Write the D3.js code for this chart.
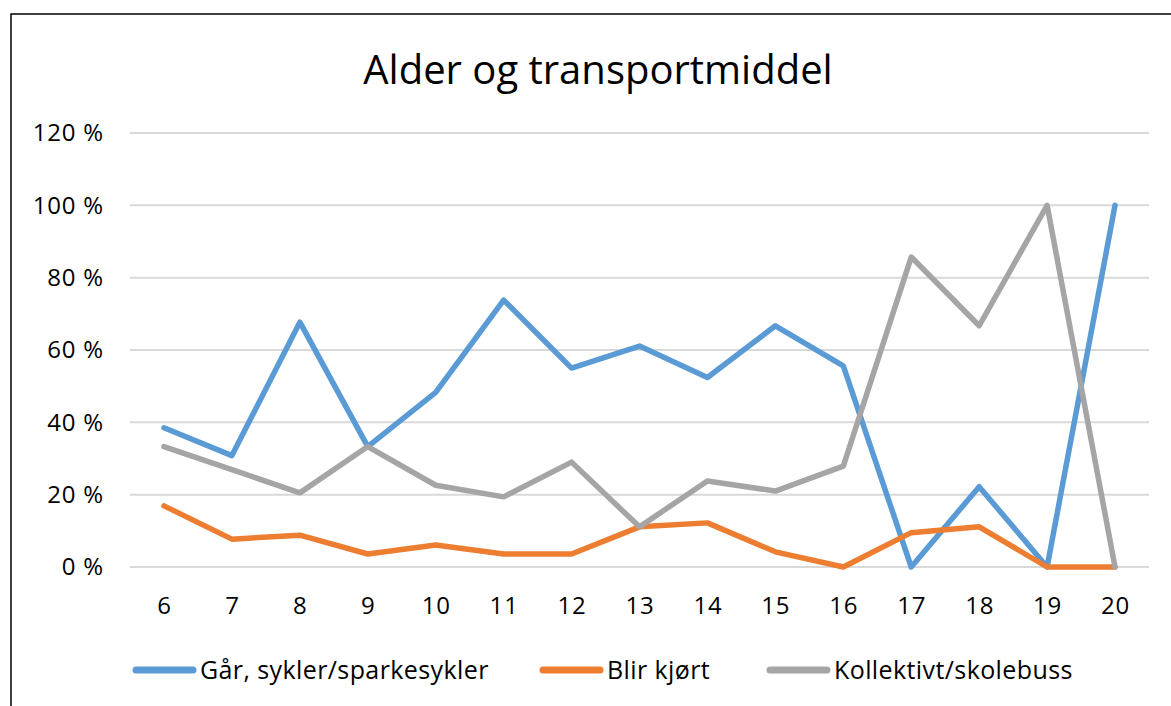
<!DOCTYPE html>
<html>
<head>
<meta charset="utf-8">
<script src="https://cdn.jsdelivr.net/npm/d3@7"></script>
<style>
  body { margin: 0; background: #fff; }
  svg { display: block; font-family: "Open Sans", sans-serif; }
</style>
</head>
<body>
<svg id="chart" width="1171" height="706"></svg>
<script>
// ages on the x axis
const ages = ["6", "7", "8", "9", "10", "11", "12", "13", "14", "15", "16", "17", "18", "19", "20"];
const yTicks = [0, 20, 40, 60, 80, 100, 120];

// share (%) per age
const gaar = [38.5, 30.8, 67.7, 33.3, 48.3, 73.8, 55.0, 61.1, 52.4, 66.7, 55.6, 0, 22.2, 0, 100];
const blirKjort = [16.9, 7.7, 8.8, 3.6, 6.1, 3.6, 3.6, 11.1, 12.2, 4.2, 0, 9.5, 11.1, 0, 0];
const kollektivt = [33.3, 26.9, 20.5, 33.3, 22.6, 19.4, 29.0, 11.1, 23.8, 21.0, 27.9, 85.7, 66.7, 100, 0];

const seriesNames = ["Går, sykler/sparkesykler", "Blir kjørt", "Kollektivt/skolebuss"];
const colors = ["#5B9BD5", "#ED7D31", "#A5A5A5"];

const series = [gaar, blirKjort, kollektivt].map((vals, i) => ({
  name: seriesNames[i],
  color: colors[i],
  values: vals.map((v, j) => ({ age: ages[j], v: v }))
}));

const svg = d3.select("#chart");

// outer border (only left + top visible in frame)
svg.append("rect")
  .attr("x", 11).attr("y", 14)
  .attr("width", 1200).attr("height", 800)
  .attr("fill", "none")
  .attr("stroke", "#000")
  .attr("stroke-width", 1.5);

const plotLeft = 130, plotRight = 1149, plotTop = 133, plotBottom = 567;

const x = d3.scalePoint()
  .domain(ages)
  .range([plotLeft, plotRight])
  .padding(0.5);

const y = d3.scaleLinear()
  .domain([0, 120])
  .range([plotBottom, plotTop]);

// title
svg.append("text")
  .attr("x", 598)
  .attr("y", 84)
  .attr("text-anchor", "middle")
  .attr("font-size", "40px")
  .attr("fill", "#000")
  .text("Alder og transportmiddel");

// gridlines
svg.append("g")
  .selectAll("line")
  .data(yTicks)
  .enter()
  .append("line")
  .attr("x1", plotLeft).attr("x2", plotRight)
  .attr("y1", d => y(d)).attr("y2", d => y(d))
  .attr("stroke", "#D9D9D9")
  .attr("stroke-width", 2);

// y axis labels
const yAxis = svg.append("g")
  .attr("transform", `translate(104, 0)`)
  .call(d3.axisLeft(y).tickValues(yTicks).tickSize(0).tickPadding(0).tickFormat(d => d + " %"));
yAxis.select(".domain").remove();
yAxis.selectAll("text")
  .attr("font-family", "'Open Sans', sans-serif")
  .attr("font-size", "24px")
  .attr("letter-spacing", "0.8px")
  .attr("fill", "#000");

// x axis labels
const xAxis = svg.append("g")
  .attr("transform", `translate(0, ${plotBottom + 30})`)
  .call(d3.axisBottom(x).tickSize(0).tickPadding(0));
xAxis.select(".domain").remove();
xAxis.selectAll("text")
  .attr("font-family", "'Open Sans', sans-serif")
  .attr("font-size", "24px")
  .attr("letter-spacing", "0.8px")
  .attr("fill", "#000");

// lines
const line = d3.line()
  .x(d => x(d.age))
  .y(d => y(d.v));

svg.append("g")
  .selectAll("path")
  .data(series)
  .enter()
  .append("path")
  .attr("d", d => line(d.values))
  .attr("fill", "none")
  .attr("stroke", d => d.color)
  .attr("stroke-width", 5.5)
  .attr("stroke-linejoin", "round")
  .attr("stroke-linecap", "round");

// legend
const legendX = [136, 543, 770];
const legend = svg.append("g")
  .selectAll("g")
  .data(series)
  .enter()
  .append("g")
  .attr("transform", (d, i) => `translate(${legendX[i]}, 670)`);

legend.append("line")
  .attr("x1", 0).attr("x2", 57)
  .attr("y1", 0).attr("y2", 0)
  .attr("stroke", d => d.color)
  .attr("stroke-width", 7)
  .attr("stroke-linecap", "round");

legend.append("text")
  .attr("x", 64)
  .attr("y", 9)
  .attr("font-size", "25px")
  .attr("letter-spacing", "0.4px")
  .attr("fill", "#000")
  .text(d => d.name);
</script>
</body>
</html>
